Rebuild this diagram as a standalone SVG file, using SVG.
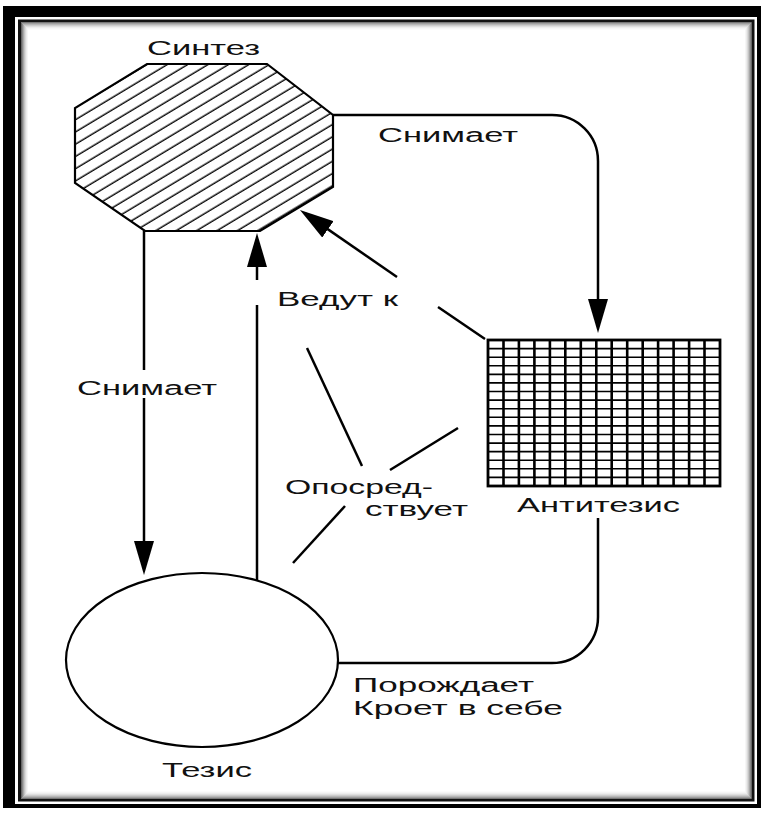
<svg xmlns="http://www.w3.org/2000/svg" width="766" height="813" viewBox="0 0 766 813">
<style>
.ln{stroke:#000;stroke-width:2.5;fill:none}
.lbl{font-family:"Liberation Sans",Arial,sans-serif;font-size:20px;fill:#111}
.shape{stroke:#000;stroke-width:2.2}
</style>
<defs>
<pattern id="hatch" patternUnits="userSpaceOnUse" width="10.5" height="10.5" patternTransform="rotate(-31)">
<line x1="0" y1="5" x2="10.5" y2="5" stroke="#000" stroke-width="1.4"/>
</pattern>
<marker id="ah" viewBox="0 0 34 20" refX="28" refY="10" markerWidth="34" markerHeight="20" markerUnits="userSpaceOnUse" orient="auto">
<path d="M0,0 L34,10 L0,20 Z" fill="#000"/>
</marker>
</defs>
<rect x="0" y="0" width="766" height="813" fill="#fff"/>
<g id="frame">
<path d="M3,6 H761 V808 H3 Z M15,17 V804 H757 V17 Z" fill="#000" fill-rule="evenodd"/>
<rect x="19.5" y="21" width="733.5" height="779" fill="none" stroke="#111" stroke-width="3"/>
<g fill="none" stroke-width="1">
<rect x="21.5" y="23" width="730" height="775" stroke="#666"/>
<rect x="22.5" y="24" width="728" height="773" stroke="#888"/>
<rect x="23.5" y="25" width="726" height="771" stroke="#a8a8a8"/>
<rect x="24.5" y="26" width="724" height="769" stroke="#c4c4c4"/>
<rect x="25.5" y="27" width="722" height="767" stroke="#dadada"/>
<rect x="26.5" y="28" width="720" height="765" stroke="#ebebeb"/>
<rect x="27.5" y="29" width="718" height="763" stroke="#f6f6f6"/>
</g>
</g>
<g id="connectors">
<path class="ln" d="M333,115 H552 A46,46 0 0 1 598,161 V327" marker-end="url(#ah)"/>
<path class="ln" d="M144,231 V370"/>
<path class="ln" d="M144,398 V569" marker-end="url(#ah)"/>
<path class="ln" d="M257,580 V305"/>
<path class="ln" d="M257,280 V239" marker-end="url(#ah)"/>
<path class="ln" d="M485,339 L438,307"/>
<path class="ln" d="M397,277 L304.9,213.4" marker-end="url(#ah)"/>
<path class="ln" d="M598,518 V617 A46,46 0 0 1 552,663 H338"/>
<path class="ln" d="M307,348 L362,466"/>
<path class="ln" d="M458,428 L390,470"/>
<path class="ln" d="M345,506 L293,563"/>
</g>
<g id="synthesis">
<path class="shape" d="M147,64 L267,64 L333,115 L333,187 L260,231 L145,231 L75,183 L75,108 Z" fill="url(#hatch)"/>
<text class="lbl" x="147" y="55" textLength="113" lengthAdjust="spacingAndGlyphs">Синтез</text>
</g>
<g id="antithesis">
<rect x="488" y="340" width="232" height="146" fill="#fff"/>
<path stroke="#000" stroke-width="1.6" fill="none" d="M488,348.6H720M488,357.2H720M488,365.8H720M488,374.4H720M488,382.9H720M488,391.5H720M488,400.1H720M488,408.7H720M488,417.3H720M488,425.9H720M488,434.5H720M488,443.1H720M488,451.6H720M488,460.2H720M488,468.8H720M488,477.4H720"/>
<path stroke="#000" stroke-width="2.6" fill="none" d="M503.5,340V486M518.9,340V486M534.4,340V486M549.9,340V486M565.3,340V486M580.8,340V486M596.3,340V486M611.7,340V486M627.2,340V486M642.7,340V486M658.1,340V486M673.6,340V486M689.1,340V486M704.5,340V486"/>
<rect x="488" y="340" width="232" height="146" fill="none" stroke="#000" stroke-width="2.8"/>
<text class="lbl" x="517" y="512" textLength="163" lengthAdjust="spacingAndGlyphs">Антитезис</text>
</g>
<g id="thesis">
<ellipse class="shape" cx="202" cy="660" rx="136" ry="87" fill="#fff"/>
<text class="lbl" x="162" y="777" textLength="90" lengthAdjust="spacingAndGlyphs">Тезис</text>
</g>
<g id="labels">
<text class="lbl" x="378" y="142" textLength="140" lengthAdjust="spacingAndGlyphs">Снимает</text>
<text class="lbl" x="77" y="395" textLength="140" lengthAdjust="spacingAndGlyphs">Снимает</text>
<text class="lbl" x="277" y="306" textLength="121" lengthAdjust="spacingAndGlyphs">Ведут к</text>
<text class="lbl" x="285" y="494" textLength="148" lengthAdjust="spacingAndGlyphs">Опосред-</text>
<text class="lbl" x="365" y="516" textLength="103" lengthAdjust="spacingAndGlyphs">ствует</text>
<text class="lbl" x="353" y="692" textLength="181" lengthAdjust="spacingAndGlyphs">Порождает</text>
<text class="lbl" x="353" y="715" textLength="210" lengthAdjust="spacingAndGlyphs">Кроет в себе</text>
</g>
</svg>
